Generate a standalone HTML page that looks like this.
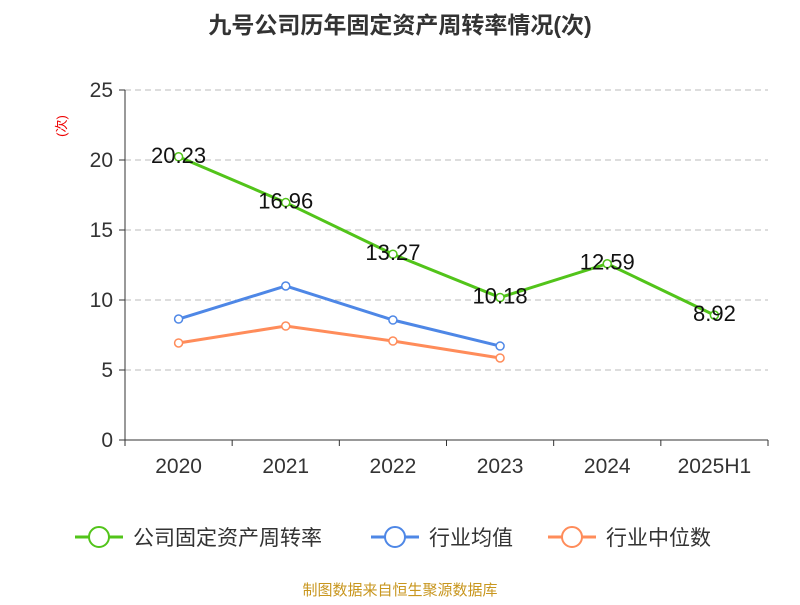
<!DOCTYPE html>
<html><head><meta charset="utf-8"><style>
body{margin:0;background:#fff;font-family:"Liberation Sans","Noto Sans CJK SC",sans-serif;}
</style></head><body>
<svg id="c" width="800" height="600" xmlns="http://www.w3.org/2000/svg" font-family="Liberation Sans, Noto Sans CJK SC, sans-serif">
<text x="400" y="33" text-anchor="middle" font-size="23" font-weight="bold" fill="#333">九号公司历年固定资产周转率情况(次)</text>
<text transform="translate(66,126) rotate(-90)" text-anchor="middle" font-size="13" fill="#e00">(次)</text>
<g id="grid"></g><g id="axes"></g><g id="series"></g>
<g>
<g><line x1="75" y1="537" x2="123" y2="537" stroke="#52c41a" stroke-width="3"/><circle cx="99" cy="537" r="10" fill="#fff" stroke="#52c41a" stroke-width="2"/><text x="133" y="545" font-size="21" fill="#333">公司固定资产周转率</text></g>
<g><line x1="371" y1="537" x2="419" y2="537" stroke="#4e87e6" stroke-width="3"/><circle cx="395" cy="537" r="10" fill="#fff" stroke="#4e87e6" stroke-width="2"/><text x="429" y="545" font-size="21" fill="#333">行业均值</text></g>
<g><line x1="548" y1="537" x2="596" y2="537" stroke="#ff8c5a" stroke-width="3"/><circle cx="572" cy="537" r="10" fill="#fff" stroke="#ff8c5a" stroke-width="2"/><text x="606" y="545" font-size="21" fill="#333">行业中位数</text></g>
</g>
<text x="400" y="595" text-anchor="middle" font-size="15" fill="#c8961e">制图数据来自恒生聚源数据库</text>
</svg>
<script>
const categories=["2020","2021","2022","2023","2024","2025H1"];
const companyValues=[20.23,16.96,13.27,10.18,12.59,8.92];
const avgValues=[8.64,11.0,8.57,6.71];
const medianValues=[6.93,8.14,7.07,5.86];
const yTicks=[0,5,10,15,20,25];
const NS="http://www.w3.org/2000/svg";
const L=125,R=768,T=90,B=440,yMax=25;
const bw=(R-L)/categories.length;
const xs=i=>L+bw*(i+0.5);
const ys=v=>B-(v/yMax)*(B-T);
function mk(tag,attrs,parent,text){const e=document.createElementNS(NS,tag);for(const k in attrs)e.setAttribute(k,attrs[k]);if(text!==undefined)e.textContent=text;parent.appendChild(e);return e;}
const grid=document.getElementById('grid'),axes=document.getElementById('axes'),series=document.getElementById('series');
yTicks.forEach(t=>{
 if(t>0){const g=mk('line',{x1:L,x2:R,y1:ys(t),y2:ys(t),stroke:'#bbb','stroke-dasharray':'6,4'},grid);
 
 }
 const tk=mk('line',{x1:L-6,x2:L,y1:ys(t),y2:ys(t),stroke:'#333'},axes);
 
 
 const lb=mk('text',{x:L-12,y:ys(t)+7,'text-anchor':'end','font-size':21,fill:'#333'},axes,String(t));
 
 
});
const ya=mk('line',{x1:L,x2:L,y1:T,y2:B,stroke:'#333'},axes);


const xa=mk('line',{x1:L,x2:R,y1:B,y2:B,stroke:'#333'},axes);


for(let i=0;i<=categories.length;i++){const tk=mk('line',{x1:L+bw*i,x2:L+bw*i,y1:B,y2:B+6,stroke:'#333'},axes);
 
 }
categories.forEach((c,i)=>{const t=mk('text',{x:xs(i),y:B+33,'text-anchor':'middle','font-size':21,fill:'#333'},axes,c);
 
 });
function drawSeries(vals,color,name,labels){
 const pts=vals.map((v,i)=>xs(i)+','+ys(v)).join(' ');
 const pl=mk('polyline',{points:pts,fill:'none',stroke:color,'stroke-width':3},series);
 
 
 vals.forEach((v,i)=>{const c=mk('circle',{cx:xs(i),cy:ys(v),r:4,fill:'#fff',stroke:color,'stroke-width':1.5},series);
  
  
  if(labels){const t=mk('text',{x:xs(i),y:ys(v)+6,'text-anchor':'middle','font-size':22,fill:'#111'},series,v.toFixed(2));
  
  }
 });
}
drawSeries(avgValues,'#4e87e6','industry-average',false);
drawSeries(medianValues,'#ff8c5a','industry-median',false);
drawSeries(companyValues,'#52c41a','company',true);
</script>
</body></html>
